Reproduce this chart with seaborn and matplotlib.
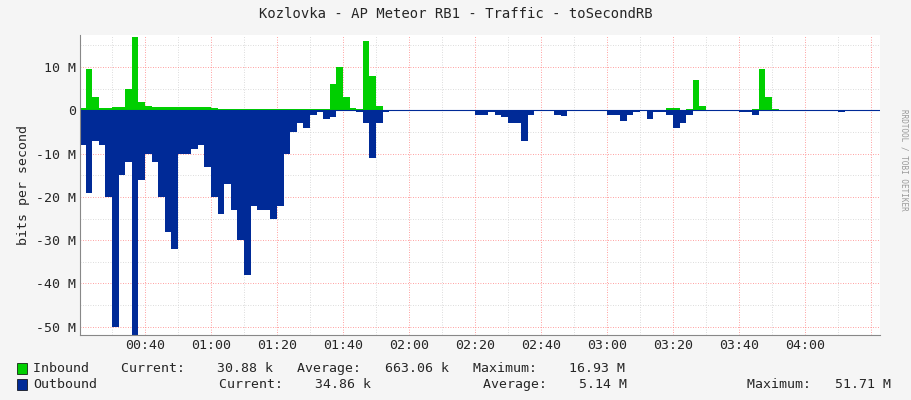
import matplotlib
matplotlib.use("Agg")
import matplotlib.pyplot as plt
import seaborn as sns
import numpy as np
import pandas as pd

sns.set_style("white")
plt.rcParams['font.family'] = ['DejaVu Sans Mono']

start_min = 20  # 00:20, 2-minute steps
inbound = [0.5, 9.5, 3, 0.5, 0.5, 0.8, 0.8, 5, 17, 2, 1, 0.8, 0.8, 0.8, 0.8, 0.8, 0.8, 0.8, 0.8, 0.8,
           0.5, 0.3, 0.3, 0.3, 0.3, 0.3, 0.3, 0.3, 0.3, 0.3, 0.3, 0.2, 0.2, 0.2, 0.2, 0.3, 0.3, 0.3, 6, 10,
           3, 0.5, 0.3, 16, 8, 1, 0.1, 0.1, 0, 0, 0, 0, 0, 0, 0, 0, 0, 0, 0, 0,
           0, 0, 0, 0, 0, 0, 0, 0, 0, 0, 0, 0, 0, 0, 0, 0, 0, 0, 0, 0,
           0, 0, 0, 0, 0, 0, 0.1, 0.1, 0.1, 0.5, 0.5, 0.1, 0.3, 7, 1, 0.1, 0, 0, 0, 0,
           0, 0, 0.2, 9.5, 3, 0.3, 0.1, 0, 0, 0, 0, 0, 0, 0, 0, 0, 0, 0, 0, 0, 0, 0]
outbound = [8, 19, 7, 8, 20, 50, 15, 12, 52, 16, 10, 12, 20, 28, 32, 10, 10, 9, 8, 13,
            20, 24, 17, 23, 30, 38, 22, 23, 23, 25, 22, 10, 5, 3, 4, 1, 0.5, 2, 1.5, 0.2,
            0.1, 0.1, 0.5, 3, 11, 3, 0.3, 0.2, 0, 0, 0, 0, 0, 0, 0, 0, 0, 0, 0, 0,
            1, 1, 0.5, 1, 1.5, 3, 3, 7, 1, 0, 0, 0, 1, 1.2, 0, 0, 0, 0, 0, 0,
            1, 1, 2.5, 1, 0.5, 0, 2, 0.3, 0.5, 1, 4, 3, 1, 0, 0, 0, 0, 0, 0, 0,
            0.3, 0.5, 1, 0.2, 0, 0, 0, 0, 0, 0, 0, 0, 0, 0, 0, 0.3, 0, 0, 0, 0, 0, 0]

n = min(len(inbound), len(outbound))
t = start_min + 2 * np.arange(n)
df = pd.DataFrame({"t": t, "in": np.array(inbound[:n]) * 1e6,
                   "out": -np.array(outbound[:n]) * 1e6})

fig = plt.figure(figsize=(9.11, 4.0), dpi=100, facecolor="#F5F5F5")
ax = fig.add_axes([0.0878, 0.1625, 0.878, 0.75])
ax.set_facecolor("white")

ax.fill_between(df["t"], 0, df["in"], step="post", color="#00CF00", lw=0)
ax.fill_between(df["t"], 0, df["out"], step="post", color="#002A97", lw=0)
ax.axhline(0, color="#002A97", lw=0.8)

xmin, xmax = 20.3, 262.7
ax.set_xlim(xmin, xmax)
ax.set_ylim(-51.9e6, 17.4e6)

for m in range(30, 263, 10):
    major = (m % 20 == 0)
    ax.axvline(m, color="#FF8080" if major else "#D0D0D0", lw=0.6, ls=(0, (1, 2)), zorder=0.5)
for v in range(-50, 20, 5):
    ax.axhline(v * 1e6, color="#FF8080" if v % 10 == 0 else "#D0D0D0", lw=0.6, ls=(0, (1, 2)), zorder=0.5)

ticks = list(range(40, 250, 20))
ax.set_xticks(ticks)
ax.set_xticklabels([f"{m // 60:02d}:{m % 60:02d}" for m in ticks], fontsize=9.5)
yt = [v * 1e6 for v in range(-50, 20, 10)]
ax.set_yticks(yt)
ax.set_yticklabels([f"{v} M" if v != 0 else "0" for v in range(-50, 20, 10)], fontsize=9.5)
ax.tick_params(length=0, pad=3)
for s in ["top", "right"]:
    ax.spines[s].set_visible(False)
ax.spines["left"].set_color("#888888")
ax.spines["bottom"].set_color("#888888")
ax.set_ylabel("bits per second", fontsize=9.5)

fig.text(0.5, 0.965, "Kozlovka - AP Meteor RB1 - Traffic - toSecondRB", ha="center", va="center", fontsize=10)
fig.text(0.992, 0.6, "RRDTOOL / TOBI OETIKER", rotation=270, ha="center", va="center", fontsize=5.5, color="#999999")

fig.patches.append(plt.Rectangle((0.019, 0.065), 0.011, 0.027, transform=fig.transFigure, color="#00CF00", ec="black", lw=0.5))
fig.patches.append(plt.Rectangle((0.019, 0.025), 0.011, 0.027, transform=fig.transFigure, color="#002A97", ec="black", lw=0.5))
fig.text(0.036, 0.078, "Inbound    Current:    30.88 k   Average:   663.06 k   Maximum:    16.93 M", fontsize=9.5, va="center")
fig.text(0.036, 0.038, "Outbound", fontsize=9.5, va="center")
fig.text(0.24, 0.038, "Current:    34.86 k", fontsize=9.5, va="center")
fig.text(0.53, 0.038, "Average:    5.14 M", fontsize=9.5, va="center")
fig.text(0.82, 0.038, "Maximum:   51.71 M", fontsize=9.5, va="center")

fig.savefig("out.png", dpi=100, facecolor=fig.get_facecolor())
